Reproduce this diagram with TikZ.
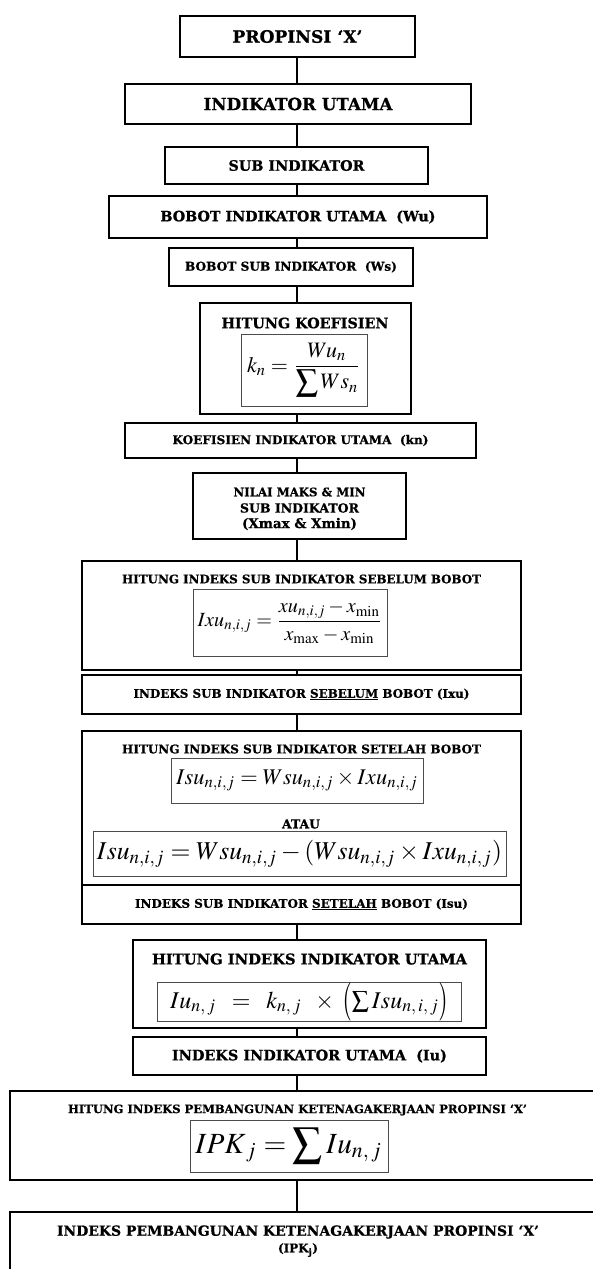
\documentclass[tikz,border=0pt]{standalone}
\usepackage{mathptmx}
\usepackage[no-math]{fontspec}
\setmainfont{DejaVu Serif}[BoldFeatures={FakeBold=0.8}]
\usepackage{graphicx}
\tikzset{
  outerbox/.style={draw=black, line width=1.5pt, inner sep=0pt, font=\bfseries},
  eqbox/.style={draw=black!70, line width=0.9pt, inner sep=0pt},
  conn/.style={draw=black, line width=1.3pt},
  lbl/.style={inner sep=0pt, font=\bfseries},
}
\newcommand\fitw[2]{\resizebox{#1pt}{!}{#2}}
\newcommand\mylp{\mathopen{\raisebox{-0.15em}{\scalebox{1}[1.6]{$($}}}}
\newcommand\myrp{\mathclose{\raisebox{-0.15em}{\scalebox{1}[1.6]{$)$}}}}
\begin{document}
\begin{tikzpicture}[x=1pt,y=-1pt]
\clip (0,0) rectangle (593,1269);
\fill[white] (0,0) rectangle (593,1269);
\coordinate (cx) at (297,0);

\node[outerbox, minimum width=235pt, minimum height=41pt] (b1) at (297.5,36.5) {\fitw{130}{PROPINSI ‘X’}};
\node[outerbox, minimum width=346pt, minimum height=40pt] (b2) at (298,104) {\fitw{189}{INDIKATOR UTAMA}};
\node[outerbox, minimum width=263pt, minimum height=37pt] (b3) at (296.5,165.5) {\fitw{136}{SUB INDIKATOR}};
\node[outerbox, minimum width=378pt, minimum height=42pt] (b4) at (298,217) {\fitw{275}{BOBOT INDIKATOR UTAMA\ \ (Wu)}};
\node[outerbox, minimum width=244pt, minimum height=38pt] (b5) at (291,267) {\fitw{212}{BOBOT SUB INDIKATOR\ \ (Ws)}};

\node[outerbox, minimum width=211pt, minimum height=111pt] (b6) at (305.5,358.5) {};
\node[lbl] (b6t) at (305,323) {\fitw{167}{HITUNG KOEFISIEN}};
\node[eqbox, minimum width=126pt, minimum height=72pt] (b6f) at (304,370) {\fitw{114}{$\displaystyle k_n=\frac{Wu_n}{\displaystyle\sum Ws_n}$}};

\node[outerbox, minimum width=351pt, minimum height=35pt] (b7) at (300.5,440.5) {\fitw{256}{KOEFISIEN INDIKATOR UTAMA\ \ (kn)}};

\node[outerbox, minimum width=213pt, minimum height=66pt] (b8) at (299.5,506) {};
\node[lbl] (b8a) at (299.5,492) {\fitw{132}{NILAI MAKS \& MIN}};
\node[lbl] (b8b) at (299.5,508) {\fitw{119}{SUB INDIKATOR}};
\node[lbl] (b8c) at (299.5,524) {\fitw{115}{(Xmax \& Xmin)}};

\node[outerbox, minimum width=439pt, minimum height=109pt] (b9) at (301.5,615.5) {};
\node[lbl] (b9t) at (301.5,579) {\fitw{359}{HITUNG INDEKS SUB INDIKATOR SEBELUM BOBOT}};
\node[eqbox, minimum width=194pt, minimum height=67pt] (b9f) at (290,622.5) {\fitw{185}{$\displaystyle Ixu_{n,i,j}=\frac{xu_{n,i,j}-x_{\min}}{x_{\max}-x_{\min}}$}};

\node[outerbox, minimum width=439pt, minimum height=39pt] (b10) at (301.5,694.5) {\fitw{336}{INDEKS SUB INDIKATOR \underline{SEBELUM} BOBOT (Ixu)}};

\node[outerbox, minimum width=439pt, minimum height=154pt] (b11) at (301.5,808) {};
\node[lbl] (b11t) at (301.5,749) {\fitw{359}{HITUNG INDEKS SUB INDIKATOR SETELAH BOBOT}};
\node[eqbox, minimum width=252pt, minimum height=45pt] (b11f) at (297,780.5) {\fitw{242}{$Isu_{n,i,j}=Wsu_{n,i,j}\times Ixu_{n,i,j}$}};
\node[lbl] (b11o) at (301,824) {\fitw{38}{ATAU}};
\node[eqbox, minimum width=413pt, minimum height=45pt] (b11g) at (299.5,853.5) {\fitw{405}{$Isu_{n,i,j}=Wsu_{n,i,j}-(Wsu_{n,i,j}\times Ixu_{n,i,j})$}};

\node[outerbox, minimum width=439pt, minimum height=39pt] (b12) at (301.5,904.5) {\fitw{333}{INDEKS SUB INDIKATOR \underline{SETELAH} BOBOT (Isu)}};

\node[outerbox, minimum width=353pt, minimum height=88pt] (b13) at (309.5,984) {};
\node[lbl] (b13t) at (309.5,959) {\fitw{315}{HITUNG INDEKS INDIKATOR UTAMA}};
\node[eqbox, minimum width=304pt, minimum height=34pt, font=\fontsize{24}{28}\selectfont] (b13f) at (309,1002) {$Iu_{n,\,j}\;\;=\;\;k_{n,\,j}\;\;\times\;\mylp\sum Isu_{n,\,i,\,j}\myrp$};

\node[outerbox, minimum width=353pt, minimum height=38pt] (b14) at (309.5,1056) {\fitw{275}{INDEKS INDIKATOR UTAMA\ \ (Iu)}};

\node[outerbox, minimum width=590pt, minimum height=89pt] (b15) at (305,1135.5) {};
\node[lbl] (b15t) at (297.5,1110) {\fitw{459}{HITUNG INDEKS PEMBANGUNAN KETENAGAKERJAAN PROPINSI ‘X’}};
\node[eqbox, minimum width=198pt, minimum height=52pt] (b15f) at (289,1146) {\fitw{187}{$\displaystyle IPK_{\,j}=\sum Iu_{n,\,j}$}};

\node[outerbox, minimum width=590pt, minimum height=60pt] (b16) at (305,1242) {};
\node[lbl] (b16a) at (298,1232) {\fitw{482}{INDEKS PEMBANGUNAN KETENAGAKERJAAN PROPINSI ‘X’}};
\node[lbl] (b16b) at (298,1250) {\fitw{40}{(IPK\textsubscript{j})}};

\foreach \a/\b in {b1/b2,b2/b3,b3/b4,b4/b5,b5/b6,b6/b7,b7/b8,b8/b9,b9/b10,b10/b11,b12/b13,b13/b14,b14/b15,b15/b16}
  \draw[conn] (cx |- \a.south) -- (cx |- \b.north);
\end{tikzpicture}
\end{document}
